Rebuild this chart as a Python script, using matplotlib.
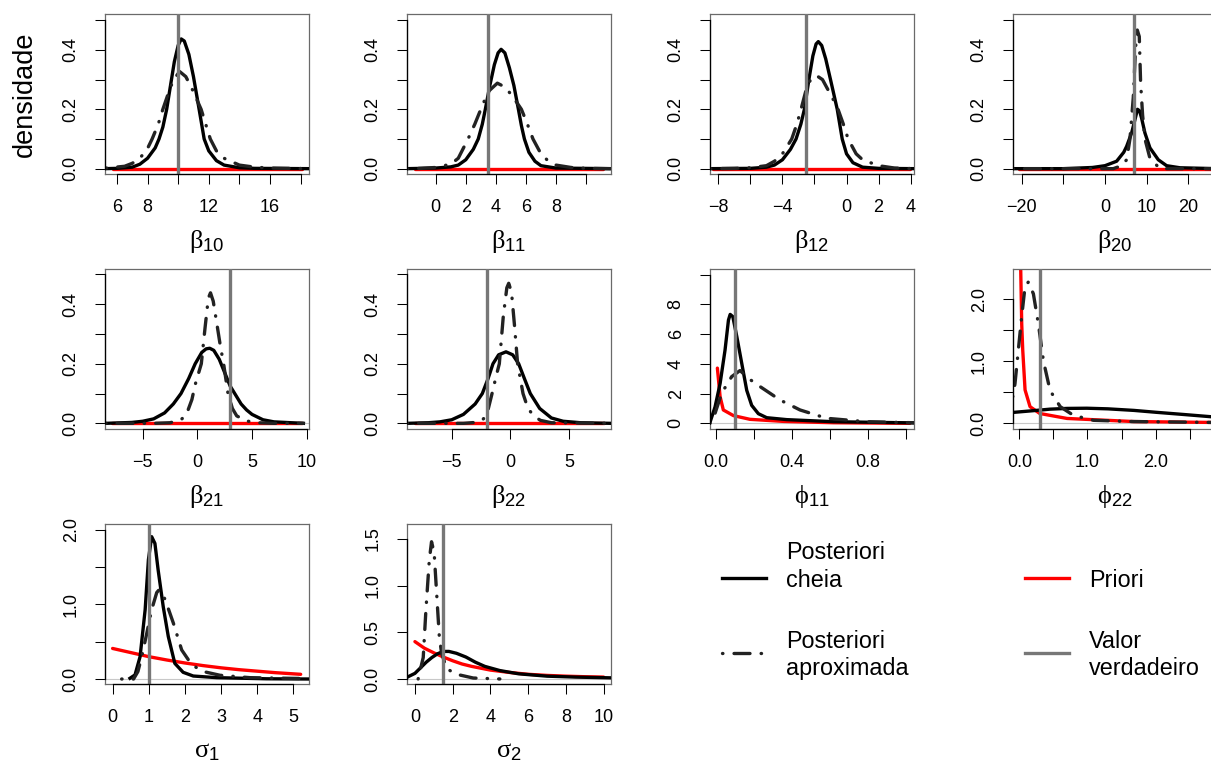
import matplotlib
matplotlib.use('Agg')
import matplotlib.pyplot as plt

plt.rcParams['font.family'] = ['Liberation Sans', 'DejaVu Sans']
plt.rcParams['mathtext.fontset'] = 'custom'
plt.rcParams['mathtext.rm'] = 'Liberation Serif'
plt.rcParams['mathtext.sf'] = 'Liberation Sans'
plt.rcParams['mathtext.it'] = 'Liberation Serif:italic'
plt.rcParams['lines.scale_dashes'] = False

# ---------------- data ----------------
param_labels = [r'$\mathrm{β}_{\mathsf{10}}$', r'$\mathrm{β}_{\mathsf{11}}$', r'$\mathrm{β}_{\mathsf{12}}$',
                r'$\mathrm{β}_{\mathsf{20}}$', r'$\mathrm{β}_{\mathsf{21}}$', r'$\mathrm{β}_{\mathsf{22}}$',
                r'$\mathrm{ϕ}_{\mathsf{11}}$', r'$\mathrm{ϕ}_{\mathsf{22}}$',
                r'$\mathrm{σ}_{\mathsf{1}}$', r'$\mathrm{σ}_{\mathsf{2}}$']
true_values = [10, 3.5, -2.5, 7, 3, -2, 0.1, 0.3, 1.0, 1.5]

# beta10
b10_cheia_x = [5.22, 6.0, 7.0, 7.5, 8.0, 8.5, 8.75, 9.0, 9.25, 9.5, 9.75, 10.0, 10.2, 10.4, 10.7, 11.0, 11.37, 11.7, 12.0, 12.5, 13.0, 14.0, 15.0, 18.55]
b10_cheia_y = [0.0, 0.001, 0.005, 0.015, 0.035, 0.07, 0.1, 0.14, 0.2, 0.28, 0.36, 0.415, 0.437, 0.43, 0.385, 0.31, 0.2, 0.1, 0.06, 0.027, 0.012, 0.003, 0.001, 0.0]
b10_aprox_x = [5.3, 6.5, 7.0, 7.5, 8.0, 8.3, 8.7, 9.0, 9.4, 9.7, 10.1, 10.5, 10.9, 11.5, 12.1, 12.5, 13.0, 14.0, 15.0, 16.0, 18.55]
b10_aprox_y = [0.002, 0.008, 0.018, 0.035, 0.068, 0.1, 0.15, 0.2, 0.26, 0.3, 0.327, 0.31, 0.27, 0.2, 0.1, 0.06, 0.035, 0.012, 0.005, 0.002, 0.0]
b10_prior_x = [5.75, 18.1]
b10_prior_y = [0.0, 0.0]

# beta11
b11_cheia_x = [-1.9, 0.0, 1.0, 1.5, 2.0, 2.5, 2.83, 3.1, 3.3, 3.6, 3.9, 4.15, 4.35, 4.6, 4.9, 5.2, 5.5, 5.7, 5.9, 6.2, 6.6, 7.0, 8.0, 11.6]
b11_cheia_y = [0.0, 0.002, 0.006, 0.012, 0.03, 0.065, 0.1, 0.15, 0.2, 0.28, 0.35, 0.39, 0.402, 0.39, 0.34, 0.28, 0.2, 0.145, 0.1, 0.055, 0.025, 0.01, 0.002, 0.0]
b11_aprox_x = [-1.9, -1.0, 0.0, 1.0, 1.5, 2.15, 2.6, 3.0, 3.5, 4.1, 4.6, 5.1, 5.7, 6.1, 6.47, 7.0, 7.5, 8.0, 9.0, 10.0, 11.6]
b11_aprox_y = [0.0, 0.001, 0.004, 0.015, 0.035, 0.1, 0.15, 0.2, 0.26, 0.288, 0.275, 0.245, 0.2, 0.15, 0.1, 0.05, 0.025, 0.012, 0.004, 0.001, 0.0]
b11_prior_x = [-1.37, 11.1]
b11_prior_y = [0.0, 0.0]

# beta12
b12_cheia_x = [-8.5, -6.0, -5.0, -4.5, -4.0, -3.5, -3.15, -2.85, -2.63, -2.35, -2.1, -1.9, -1.76, -1.55, -1.3, -1.0, -0.58, -0.27, 0.0, 0.4, 1.0, 2.0, 4.2]
b12_cheia_y = [0.0, 0.001, 0.005, 0.012, 0.03, 0.065, 0.1, 0.15, 0.2, 0.3, 0.38, 0.42, 0.428, 0.415, 0.37, 0.3, 0.2, 0.1, 0.05, 0.02, 0.005, 0.001, 0.0]
b12_aprox_x = [-8.5, -7.0, -6.0, -5.0, -4.5, -4.0, -3.42, -3.1, -2.84, -2.5, -2.2, -1.86, -1.5, -1.1, -0.8, -0.53, -0.2, 0.1, 0.6, 1.0, 2.0, 3.0, 4.2]
b12_aprox_y = [0.0, 0.001, 0.003, 0.01, 0.025, 0.05, 0.1, 0.15, 0.2, 0.27, 0.305, 0.313, 0.3, 0.26, 0.23, 0.2, 0.15, 0.1, 0.05, 0.03, 0.01, 0.002, 0.0]
b12_prior_x = [-8.33, 3.97]
b12_prior_y = [0.0, 0.0]

# beta20
b20_cheia_x = [-22.08, -10.0, -3.0, 0.0, 2.8, 4.5, 5.2, 6.4, 7.2, 7.8, 8.3, 8.8, 9.6, 10.8, 12.8, 14.8, 18.0, 26.9]
b20_cheia_y = [0.0, 0.0, 0.004, 0.01, 0.025, 0.055, 0.075, 0.12, 0.165, 0.2, 0.195, 0.17, 0.12, 0.07, 0.03, 0.01, 0.003, 0.0]
b20_aprox_x = [-22.08, 2.0, 4.0, 5.2, 6.0, 6.8, 7.36, 7.76, 8.24, 8.56, 9.04, 9.6, 10.8, 13.2, 26.9]
b20_aprox_y = [0.0, 0.0, 0.01, 0.03, 0.1, 0.24, 0.41, 0.467, 0.445, 0.29, 0.18, 0.1, 0.035, 0.0, 0.0]
b20_prior_x = [-20.6, 26.9]
b20_prior_y = [0.0, 0.0]

# beta21
b21_cheia_x = [-8.4, -6.0, -5.0, -4.0, -3.0, -2.2, -1.5, -0.8, -0.2, 0.4, 0.8, 1.13, 1.5, 2.0, 2.5, 3.0, 3.5, 4.0, 4.5, 5.0, 6.0, 7.0, 9.7]
b21_cheia_y = [0.0, 0.003, 0.007, 0.015, 0.035, 0.065, 0.1, 0.15, 0.2, 0.238, 0.25, 0.252, 0.245, 0.215, 0.17, 0.125, 0.095, 0.065, 0.045, 0.03, 0.012, 0.005, 0.0]
b21_aprox_x = [-8.4, -4.0, -2.5, -1.5, -1.0, -0.5, -0.2, 0.36, 0.7, 1.0, 1.2, 1.45, 1.8, 2.1, 2.4, 2.8, 3.2, 3.6, 4.5, 5.5, 7.0, 9.7]
b21_aprox_y = [0.0, 0.0, 0.002, 0.012, 0.03, 0.08, 0.13, 0.2, 0.32, 0.42, 0.438, 0.41, 0.33, 0.26, 0.2, 0.1, 0.05, 0.025, 0.008, 0.002, 0.0, 0.0]
b21_prior_x = [-7.84, 9.6]
b21_prior_y = [0.0, 0.0]

# beta22
b22_cheia_x = [-8.8, -7.0, -6.0, -5.0, -4.0, -3.0, -2.39, -1.9, -1.48, -1.0, -0.37, 0.2, 0.71, 1.2, 1.7, 2.5, 3.5, 4.5, 6.0, 8.6]
b22_cheia_y = [0.0, 0.002, 0.005, 0.012, 0.03, 0.065, 0.1, 0.15, 0.2, 0.23, 0.24, 0.23, 0.2, 0.15, 0.1, 0.05, 0.018, 0.007, 0.002, 0.0]
b22_aprox_x = [-8.8, -4.0, -3.0, -2.4, -2.0, -1.56, -1.2, -0.94, -0.6, -0.3, -0.14, 0.1, 0.35, 0.62, 1.08, 1.5, 2.0, 2.56, 3.5, 8.6]
b22_aprox_y = [0.0, 0.0, 0.003, 0.01, 0.03, 0.1, 0.16, 0.2, 0.36, 0.455, 0.47, 0.44, 0.33, 0.2, 0.1, 0.05, 0.025, 0.01, 0.002, 0.0]
b22_prior_x = [-8.1, 8.01]
b22_prior_y = [0.0, 0.0]

# phi11
p11_cheia_x = [-0.031, -0.0035, 0.023, 0.049, 0.067, 0.076, 0.090, 0.111, 0.137, 0.163, 0.189, 0.224, 0.268, 0.373, 0.618, 1.042]
p11_cheia_y = [0.03, 1.10, 2.67, 4.92, 6.94, 7.32, 7.17, 5.82, 4.02, 2.22, 1.21, 0.65, 0.38, 0.25, 0.11, 0.03]
p11_aprox_x = [-0.031, -0.0035, 0.031, 0.084, 0.128, 0.171, 0.233, 0.338, 0.443, 0.583, 0.793, 1.042]
p11_aprox_y = [0.0, 0.67, 2.02, 3.14, 3.55, 3.03, 2.47, 1.57, 0.9, 0.34, 0.11, 0.04]
p11_prior_x = [0.0088, 0.023, 0.040, 0.093, 0.18, 0.356, 0.62, 1.02]
p11_prior_y = [3.71, 1.8, 0.9, 0.52, 0.27, 0.13, 0.04, 0.0]

# phi22
p22_cheia_x = [-0.097, 0.2, 0.45, 0.7, 0.99, 1.3, 1.68, 2.0, 2.4, 2.9]
p22_cheia_y = [0.177, 0.205, 0.23, 0.242, 0.245, 0.235, 0.21, 0.18, 0.145, 0.1]
p22_aprox_x = [-0.097, -0.064, -0.015, 0.034, 0.083, 0.132, 0.206, 0.28, 0.353, 0.451, 0.6, 0.794, 1.09, 1.68, 2.9]
p22_aprox_y = [0.43, 0.64, 1.18, 1.72, 2.2, 2.28, 2.09, 1.6, 1.01, 0.53, 0.27, 0.13, 0.05, 0.03, 0.015]
p22_prior_x = [0.01, 0.02, 0.035, 0.05, 0.084, 0.157, 0.30, 0.70, 1.68, 2.9]
p22_prior_y = [4.0, 2.5, 1.6, 1.18, 0.54, 0.27, 0.16, 0.08, 0.03, 0.015]

# sigma1
s1_cheia_x = [0.48, 0.62, 0.76, 0.9, 0.99, 1.08, 1.17, 1.26, 1.4, 1.54, 1.72, 1.95, 2.23, 2.88, 4.26, 5.43]
s1_cheia_y = [0.01, 0.055, 0.30, 0.93, 1.60, 1.91, 1.82, 1.46, 0.97, 0.57, 0.21, 0.09, 0.04, 0.018, 0.003, 0.0]
s1_aprox_x = [0.25, 0.58, 0.7, 0.8, 0.94, 1.08, 1.22, 1.29, 1.45, 1.68, 1.91, 2.19, 2.51, 2.97, 3.8, 5.43]
s1_aprox_y = [0.0, 0.0, 0.1, 0.29, 0.6, 0.93, 1.16, 1.2, 1.07, 0.75, 0.39, 0.19, 0.1, 0.05, 0.018, 0.005]
s1_prior_x = [0.0, 0.5, 1.0, 1.5, 2.0, 2.5, 3.0, 3.5, 4.0, 4.5, 5.2]
s1_prior_y = [0.41, 0.355, 0.30, 0.255, 0.215, 0.18, 0.15, 0.125, 0.105, 0.085, 0.063]

# sigma2
s2_cheia_x = [-0.35, 0.0, 0.3, 0.6, 0.9, 1.2, 1.5, 1.8, 2.2, 2.7, 3.2, 3.7, 4.5, 5.5, 7.0, 8.5, 10.39]
s2_cheia_y = [0.025, 0.06, 0.12, 0.18, 0.23, 0.27, 0.295, 0.295, 0.275, 0.235, 0.18, 0.135, 0.09, 0.055, 0.03, 0.02, 0.012]
s2_aprox_x = [0.17, 0.44, 0.58, 0.76, 0.88, 1.02, 1.15, 1.29, 1.41, 1.68, 2.21, 3.09, 4.5]
s2_aprox_y = [0.0, 0.23, 0.73, 1.27, 1.47, 1.35, 0.92, 0.46, 0.28, 0.11, 0.05, 0.01, 0.0]
s2_prior_x = [0.0, 0.5, 1.0, 1.5, 2.0, 2.5, 3.0, 4.0, 5.0, 6.0, 7.0, 8.0, 9.0, 10.0]
s2_prior_y = [0.40, 0.33, 0.28, 0.235, 0.195, 0.16, 0.135, 0.095, 0.07, 0.05, 0.038, 0.03, 0.024, 0.02]

M = '\u2212'
x_ticks = [[6, 8, 10, 12, 14, 16, 18], [0, 2, 4, 6, 8, 10], [-8, -6, -4, -2, 0, 2, 4], [-20, -10, 0, 10, 20],
           [-5, 0, 5, 10], [-5, 0, 5], [0, 0.2, 0.4, 0.6, 0.8, 1.0], [0, 0.5, 1.0, 1.5, 2.0, 2.5],
           [0, 1, 2, 3, 4, 5], [0, 2, 4, 6, 8, 10]]
x_ticklabels = [['6', '8', '', '12', '', '16', ''], ['0', '2', '4', '6', '8', ''],
                [M + '8', '', M + '4', '', '0', '2', '4'], [M + '20', '', '0', '10', '20'],
                [M + '5', '0', '5', '10'], [M + '5', '0', '5'], ['0.0', '', '0.4', '', '0.8', ''],
                ['0.0', '', '1.0', '', '2.0', ''], ['0', '1', '2', '3', '4', '5'], ['0', '2', '4', '6', '8', '10']]
beta_yt = [0, 0.1, 0.2, 0.3, 0.4, 0.5]
beta_yl = ['0.0', '', '0.2', '', '0.4', '']
y_ticks = [beta_yt] * 6 + [[0, 2, 4, 6, 8, 10], [0, 0.5, 1.0, 1.5, 2.0], [0, 0.5, 1.0, 1.5, 2.0], [0, 0.5, 1.0, 1.5]]
y_ticklabels = [beta_yl] * 6 + [['0', '2', '4', '6', '8', ''], ['0.0', '', '1.0', '', '2.0'],
                                ['0.0', '', '1.0', '', '2.0'], ['0.0', '0.5', '1.0', '1.5']]
x_lims = [(5.22, 18.55), (-1.91, 11.66), (-8.52, 4.21), (-22.08, 26.9), (-8.45, 10.21), (-8.81, 8.58),
          (-0.03, 1.042), (-0.093, 2.9), (-0.21, 5.43), (-0.42, 10.39)]
y_lims = [(-0.018, 0.521)] * 4 + [(-0.019, 0.518)] * 2 + [(-0.38, 10.37), (-0.09, 2.49), (-0.067, 2.08), (-0.054, 1.66)]

cheia = [(b10_cheia_x, b10_cheia_y), (b11_cheia_x, b11_cheia_y), (b12_cheia_x, b12_cheia_y), (b20_cheia_x, b20_cheia_y),
         (b21_cheia_x, b21_cheia_y), (b22_cheia_x, b22_cheia_y), (p11_cheia_x, p11_cheia_y), (p22_cheia_x, p22_cheia_y),
         (s1_cheia_x, s1_cheia_y), (s2_cheia_x, s2_cheia_y)]
aprox = [(b10_aprox_x, b10_aprox_y), (b11_aprox_x, b11_aprox_y), (b12_aprox_x, b12_aprox_y), (b20_aprox_x, b20_aprox_y),
         (b21_aprox_x, b21_aprox_y), (b22_aprox_x, b22_aprox_y), (p11_aprox_x, p11_aprox_y), (p22_aprox_x, p22_aprox_y),
         (s1_aprox_x, s1_aprox_y), (s2_aprox_x, s2_aprox_y)]
prior = [(b10_prior_x, b10_prior_y), (b11_prior_x, b11_prior_y), (b12_prior_x, b12_prior_y), (b20_prior_x, b20_prior_y),
         (b21_prior_x, b21_prior_y), (b22_prior_x, b22_prior_y), (p11_prior_x, p11_prior_y), (p22_prior_x, p22_prior_y),
         (s1_prior_x, s1_prior_y), (s2_prior_x, s2_prior_y)]

legend_labels = ['Posteriori\ncheia', 'Posteriori\naproximada', 'Priori', 'Valor\nverdadeiro']

# ---------------- layout / style ----------------
W, H = 1211, 769
fig = plt.figure(figsize=(W / 100, H / 100), dpi=100)
col_left = [105, 407, 710, 1013]
row_top = [14, 269, 524]
pw, ph = 204, 160
LW = 2.4
DOTDASH = (0, (0.3, 8.0, 11.5, 8.0))
C_TRUE = '#777777'
C_BOX = '#6a6a6a'

for i in range(10):
    r, c = divmod(i, 4)
    x0, y0 = col_left[c], row_top[r]
    ax = fig.add_axes([x0 / W, 1 - (y0 + ph) / H, pw / W, ph / H])
    ax.set_xlim(*x_lims[i])
    ax.set_ylim(*y_lims[i])
    ax.axhline(0, color='#c8c8c8', lw=0.8, zorder=1)
    ax.plot(*prior[i], color='#ff0000', lw=LW, solid_capstyle='round', zorder=2)
    ax.plot(*cheia[i], color='black', lw=LW, solid_joinstyle='round', zorder=3)
    ax.plot(*aprox[i], color='#222222', lw=LW, linestyle=DOTDASH, dash_capstyle='round', zorder=4)
    ax.axvline(true_values[i], color=C_TRUE, lw=2.4, zorder=5)
    for s in ax.spines.values():
        s.set_color(C_BOX)
        s.set_linewidth(0.9)
    ax.set_xticks(x_ticks[i])
    ax.set_xticklabels(x_ticklabels[i])
    ax.set_yticks(y_ticks[i])
    ax.set_yticklabels(y_ticklabels[i])
    ax.tick_params(direction='out', length=7.2, width=0.75, labelsize=13, pad=11, color='black')
    for lab in ax.get_yticklabels():
        lab.set_rotation(90)
        lab.set_va('center')
        lab.set_ha('right')
    # axis lines between first and last tick (R style)
    ax.plot([x_ticks[i][0], x_ticks[i][-1]], [0, 0], transform=ax.get_xaxis_transform(),
            color='black', lw=0.9, clip_on=False, zorder=6)
    ax.plot([0, 0], [y_ticks[i][0], y_ticks[i][-1]], transform=ax.get_yaxis_transform(),
            color='black', lw=0.9, clip_on=False, zorder=6)
    ax.text(0.5, -0.42, param_labels[i], transform=ax.transAxes, ha='center', va='center', fontsize=19)

fig.text(25 / W, 1 - 94 / H, 'densidade', rotation=90, ha='center', va='center', fontsize=19.5)

# ---------------- legend ----------------
lax = fig.add_axes([0, 0, 1, 1])
lax.set_xlim(0, W)
lax.set_ylim(H, 0)
lax.axis('off')
leg_styles = [dict(color='black', linestyle='-'),
              dict(color='#222222', linestyle=DOTDASH, dash_capstyle='round'),
              dict(color='#ff0000', linestyle='-'),
              dict(color=C_TRUE, linestyle='-')]
leg_line_x = [(721.7, 766), (721.7, 766), (1025, 1069.3), (1025, 1069.3)]
leg_line_y = [578.3, 653.3, 578.3, 653.3]
leg_text_x = [786, 786, 1089.3, 1089.3]
leg_base_y = [(559.3, 586.7), (647.7, 675.0), (586.7,), (647.7, 675.0)]
for k in range(4):
    lax.plot(leg_line_x[k], [leg_line_y[k]] * 2, lw=LW, **leg_styles[k])
    for line, by in zip(legend_labels[k].split('\n'), leg_base_y[k]):
        lax.text(leg_text_x[k], by, line, ha='left', va='baseline', fontsize=16.8)

fig.savefig('out.png', dpi=100)
